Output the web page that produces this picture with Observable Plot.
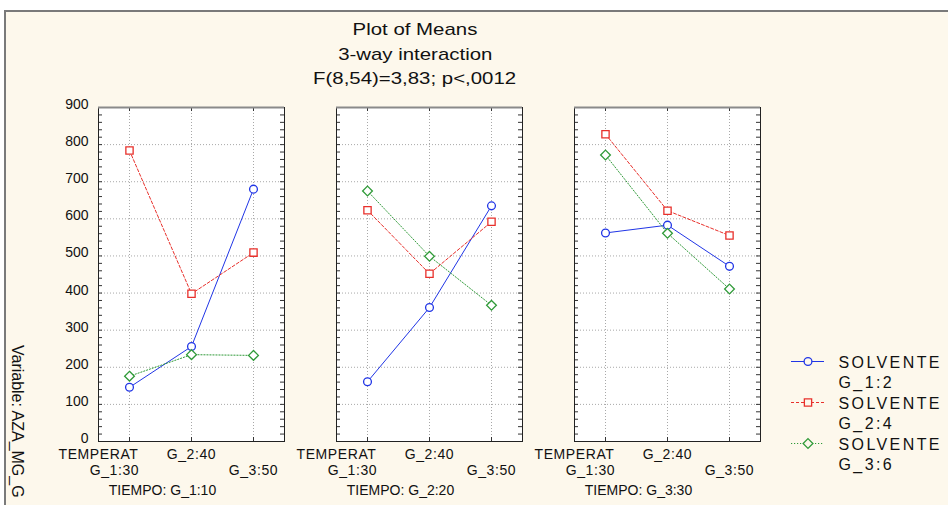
<!DOCTYPE html>
<html>
<head>
<meta charset="utf-8">
<script src="https://cdn.jsdelivr.net/npm/d3@7"></script>
<script src="https://cdn.jsdelivr.net/npm/@observablehq/plot@0.6"></script>
<style>
  html, body { margin: 0; padding: 0; background: #ffffff; }
  body { width: 948px; height: 505px; overflow: hidden; position: relative;
         font-family: "Liberation Sans", Arial, sans-serif; color: #111; }
  #sheet { position: absolute; left: 4px; top: 10px; width: 960px; height: 520px;
           background: #fdf8ec; border-left: 2px solid #7a7a7a; border-top: 2px solid #7a7a7a; }
  .title { position: absolute; left: 0; width: 830px; text-align: center;
           font-size: 17px; line-height: 20px; white-space: nowrap; }
  .title span { display: inline-block; transform: scaleX(1.2); }
  #ylab { position: absolute; left: 26px; top: 345px; transform-origin: 0 0;
          transform: rotate(90deg); font-size: 16px; white-space: nowrap; }
  #chart { position: absolute; left: 0; top: 90px; }
  #chart .xlab text { letter-spacing: 0.6px; }
  #legend { position: absolute; left: 780px; top: 340px; }
  #legend text { letter-spacing: 2.4px; }
</style>
</head>
<body>
<div id="sheet"></div>
<div class="title" style="top:20px"><span>Plot of Means</span></div>
<div class="title" style="top:45px"><span>3-way interaction</span></div>
<div class="title" style="top:69px"><span>F(8,54)=3,83; p&lt;,0012</span></div>
<div id="ylab">Variable: AZA_MG_G</div>
<div id="chart"></div>
<div id="legend"></div>
<script>
// Factor levels
const tiempo = ["G_1:10", "G_2:20", "G_3:30"];       // panels (TIEMPO)
const temperat = ["G_1:30", "G_2:40", "G_3:50"];     // x categories (TEMPERAT)
const solvente = ["G_1:2", "G_2:4", "G_3:6"];        // series (SOLVENTE)
const xFactor = "TEMPERAT";
const panelFactor = "TIEMPO";
const seriesFactor = "SOLVENTE";

// Cell means of AZA_MG_G: rows = TIEMPO level, columns = TEMPERAT level
const meansSolvente1 = [[146, 256, 680], [161, 361, 635], [562, 583, 472]];
const meansSolvente2 = [[784, 398, 509], [623, 452, 592], [828, 622, 555]];
const meansSolvente3 = [[176, 234, 232], [675, 499, 367], [772, 561, 411]];

// Axis ticks
const yTicks = d3.range(0, 901, 100);
const yMinorTicks = d3.range(0, 901, 20);

// Long-format table built from the arrays above
const means = [meansSolvente1, meansSolvente2, meansSolvente3];
const rows = [];
solvente.forEach((s, k) => tiempo.forEach((t, i) => temperat.forEach((c, j) => {
  rows.push({solvente: s, tiempo: t, temperat: c, value: means[k][i][j]});
})));

// Per-series drawing style
const seriesStyle = {
  "G_1:2": {stroke: "#2035e6", dash: null, symbol: "circle", r: 3.9},
  "G_2:4": {stroke: "#e8302b", dash: "3,2", symbol: "square", r: 4.1},
  "G_3:6": {stroke: "#2f9a38", dash: "1.2,1.8", symbol: "diamond2", r: 4.4}
};

const font = "'Liberation Sans', Arial, sans-serif";
const panelW = 186, panelH = 334;
const labelSize = 14;

const seriesMarks = solvente.flatMap(s => {
  const st = seriesStyle[s];
  const sub = rows.filter(d => d.solvente === s);
  return [
    Plot.line(sub, {fx: "tiempo", x: "temperat", y: "value", stroke: st.stroke,
                    strokeWidth: 1, strokeDasharray: st.dash}),
    Plot.dot(sub, {fx: "tiempo", x: "temperat", y: "value", symbol: st.symbol, r: st.r,
                   stroke: st.stroke, strokeWidth: 1.3, fill: "white"})
  ];
});

const chart = Plot.plot({
  width: 948,
  height: 415,
  marginTop: 17,
  marginBottom: 64,
  marginLeft: 98,
  marginRight: 188,
  style: {background: "transparent", fontFamily: font, color: "#111"},
  fx: {domain: tiempo, paddingInner: 52 / 238, paddingOuter: 0, axis: null, label: null},
  x: {type: "point", domain: temperat, padding: 0.5, axis: null},
  y: {domain: [0, 900], axis: null},
  marks: [
    Plot.frame({fill: "white", stroke: null}),
    Plot.gridY(yTicks, {stroke: "#a8a8a8", strokeOpacity: 1, strokeDasharray: "1,2"}),
    Plot.gridX(temperat, {stroke: "#a8a8a8", strokeOpacity: 1, strokeDasharray: "1,2"}),
    ...seriesMarks,
    // inward minor ticks on the left and right edges, category ticks top and bottom
    Plot.tickY(yMinorTicks, {y: d => d, insetRight: panelW - 4, stroke: "#333"}),
    Plot.tickY(yMinorTicks, {y: d => d, insetLeft: panelW - 4, stroke: "#333"}),
    Plot.tickX(temperat, {x: d => d, insetBottom: panelH - 4, stroke: "#333"}),
    Plot.tickX(temperat, {x: d => d, insetTop: panelH - 4, stroke: "#333"}),
    Plot.frame({stroke: "#222"}),
    Plot.ruleY([900], {stroke: "#8a8a8a", strokeWidth: 2}),
    Plot.axisY(yTicks, {anchor: "left", tickSize: 0, tickPadding: 10, label: null,
                        fontSize: 14, fill: "#111", dy: -3}),
    // staggered category labels
    Plot.text([xFactor], {frameAnchor: "bottom-left", textAnchor: "middle", text: d => d,
                          dy: 17, fontSize: labelSize, fill: "#111", className: "xlab"}),
    Plot.text([temperat[1]], {x: d => d, text: d => d, frameAnchor: "bottom",
                              dy: 17, fontSize: labelSize, fill: "#111", className: "xlab"}),
    Plot.text([temperat[0]], {x: d => d, text: d => d, frameAnchor: "bottom",
                              dx: -15, dy: 33, fontSize: labelSize, fill: "#111", className: "xlab"}),
    Plot.text([temperat[2]], {x: d => d, text: d => d, frameAnchor: "bottom",
                              dy: 33, fontSize: labelSize, fill: "#111", className: "xlab"}),
    // panel labels
    Plot.text(tiempo, {fx: d => d, text: d => `${panelFactor}: ${d}`, frameAnchor: "bottom",
                       dx: -29, dy: 53, fontSize: 14, fill: "#111"})
  ]
});
document.getElementById("chart").appendChild(chart);

// Legend
const legendMarks = solvente.flatMap(s => {
  const st = seriesStyle[s];
  return [
    Plot.ruleY([s], {y: d => d, x1: 0, x2: 1, stroke: st.stroke, strokeWidth: 1,
                     strokeDasharray: st.dash}),
    Plot.dot([s], {y: d => d, x: 0.5, symbol: st.symbol, r: st.r, stroke: st.stroke,
                   strokeWidth: 1.3, fill: "#fdf8ec"})
  ];
});
const legend = Plot.plot({
  width: 168,
  height: 135,
  margin: 0,
  style: {background: "transparent", fontFamily: font, color: "#111", overflow: "visible"},
  x: {domain: [0, 1], range: [11, 44], axis: null},
  y: {type: "point", domain: solvente, range: [21, 103], padding: 0, axis: null},
  marks: [
    ...legendMarks,
    Plot.text(solvente, {y: d => d, x: 1, dx: 14, dy: -8, text: d => `${seriesFactor}\n${d}`,
                         textAnchor: "start", lineAnchor: "top", lineHeight: 1.25,
                         fontSize: 16, fill: "#111"})
  ]
});
document.getElementById("legend").appendChild(legend);
</script>
</body>
</html>
